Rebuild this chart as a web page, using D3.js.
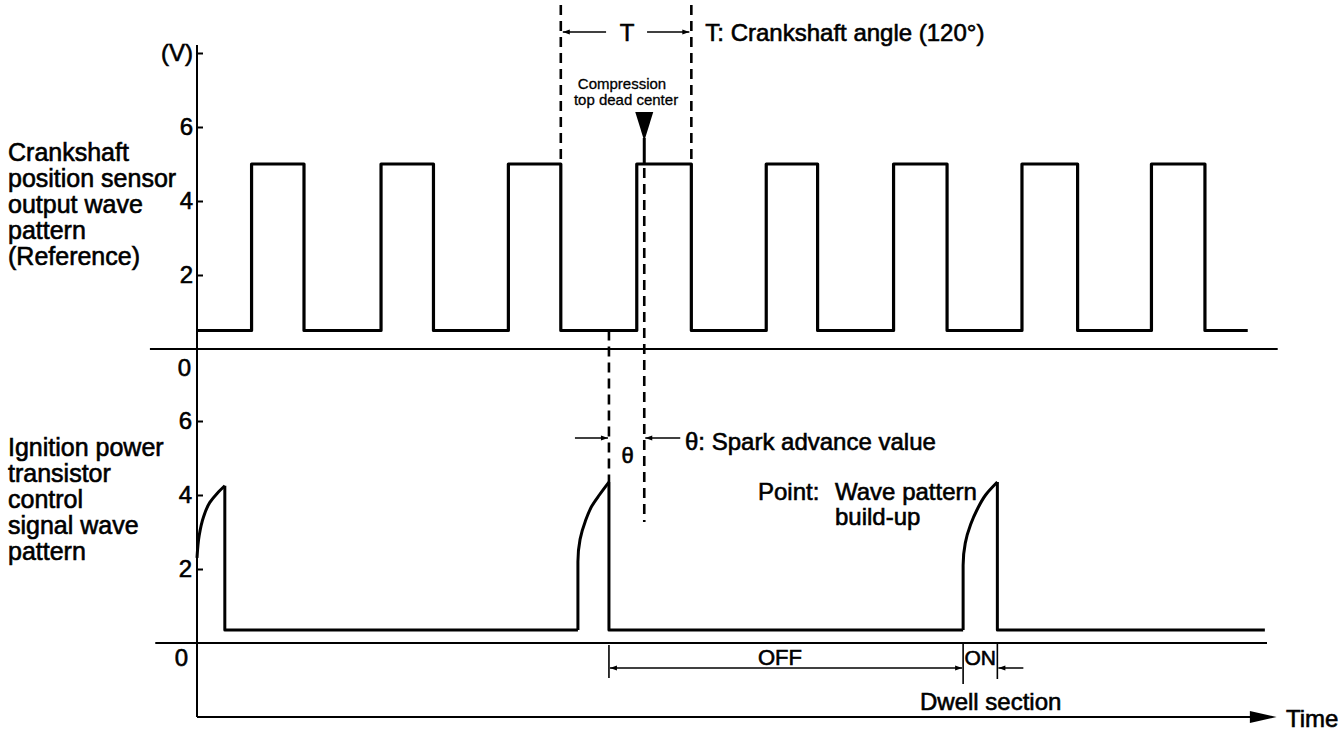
<!DOCTYPE html>
<html lang="en">
<head>
<meta charset="UTF-8">
<title>Crankshaft position sensor / ignition signal</title>
<script src="https://cdn.jsdelivr.net/npm/d3@7"></script>
<style>
  body { margin: 0; background: #fff; }
  svg { display: block; font-family: "Liberation Sans", Arial, Helvetica, sans-serif; }
  .lbl { font-size: 24px; fill: #000; stroke: #000; stroke-width: 0.6px; }
  .small { font-size: 15px; fill: #000; stroke: #000; stroke-width: 0.3px; }
</style>
</head>
<body>
<script>
// crank angle (deg) of the reference pulse edges
const refRise = [51, 172, 291, 411, 532, 651, 771, 892];
const refFall = [100, 221, 340, 462, 580, 701, 823, 942];
const refLow = 0.5, refHigh = 5.0, refEnd = 982;

// ignition power transistor signal, build-up curves as [deg, volts]
const ignBuild = [
  [[0, 2.3], [2, 2.9], [6, 3.4], [12, 3.8], [19, 4.05], [26, 4.25]],
  [[356, 0.35], [356, 2.2], [358, 2.8], [363, 3.3], [369, 3.7], [376, 4.0], [385, 4.35]],
  [[716, 0.35], [716, 2.1], [718, 2.7], [723, 3.2], [729, 3.6], [737, 4.0], [748, 4.35]]
];
const ignLow = 0.35, ignEnd = 998;

const refTicks = [2, 4, 6, 8];   // 8 shows as "(V)"
const ignTicks = [2, 4, 6];

const tEdges = [340, 462];   // T = 120 deg crank
const tdcAngle = 418;        // compression top dead center
const sparkAngle = 385;      // ignition point
const dwell = [716, 748];    // ON section

const refLabel = ["Crankshaft", "position sensor", "output wave", "pattern", "(Reference)"];
const ignLabel = ["Ignition power", "transistor", "control", "signal wave", "pattern"];

const W = 1344, H = 734;
const svg = d3.select("body").append("svg").attr("width", W).attr("height", H);

const x = d3.scaleLinear().domain([0, 1000]).range([197, 1267]);
const yTop = d3.scaleLinear().domain([0, 8]).range([349, 53]);
const yBot = d3.scaleLinear().domain([0, 6]).range([643, 421]);

const line = d3.line();

// arrow marker
const defs = svg.append("defs");
defs.append("marker").attr("id", "ah")
  .attr("viewBox", "0 0 10 10").attr("refX", 10).attr("refY", 5)
  .attr("markerWidth", 10).attr("markerHeight", 7).attr("markerUnits", "userSpaceOnUse")
  .attr("orient", "auto-start-reverse")
  .append("path").attr("d", "M0,1.5 L10,5 L0,8.5 Z").attr("fill", "#000");

// ---- frame: axis, baselines, time arrow
svg.append("line").attr("x1", x(0)).attr("x2", x(0)).attr("y1", 45).attr("y2", 717)
  .attr("stroke", "#000").attr("stroke-width", 2);
svg.append("line").attr("x1", x(-44)).attr("x2", x(1010)).attr("y1", yTop(0)).attr("y2", yTop(0))
  .attr("stroke", "#000").attr("stroke-width", 2);
svg.append("line").attr("x1", x(-39)).attr("x2", x(1000)).attr("y1", yBot(0)).attr("y2", yBot(0))
  .attr("stroke", "#000").attr("stroke-width", 2);
svg.append("line").attr("x1", x(0)).attr("x2", x(985)).attr("y1", 717).attr("y2", 717)
  .attr("stroke", "#000").attr("stroke-width", 2);
svg.append("path")
  .attr("d", `M${x(984)},711 L${x(1009)},717 L${x(984)},723 Z`).attr("fill", "#000");
svg.append("text").attr("class", "lbl").attr("x", 1286).attr("y", 727).text("Time");

// ---- y axes
function styleAxis(g) {
  g.select(".domain").remove();
  g.selectAll(".tick line").attr("stroke-width", 2);
  g.selectAll(".tick text").attr("class", "lbl");
}
svg.append("g").attr("transform", `translate(${x(0)},0)`)
  .call(d3.axisLeft(yTop).tickValues(refTicks).tickSize(-6).tickPadding(4)
    .tickFormat(d => d === 8 ? "(V)" : d3.format("d")(d)))
  .call(styleAxis);
svg.append("g").attr("transform", `translate(${x(0)},0)`)
  .call(d3.axisLeft(yBot).tickValues(ignTicks).tickSize(-6).tickPadding(5)
    .tickFormat(d3.format("d")))
  .call(styleAxis);
svg.append("text").attr("class", "lbl").attr("text-anchor", "end")
  .attr("x", x(0) - 6).attr("y", yTop(-0.5)).attr("dy", "0.35em").text("0");
svg.append("text").attr("class", "lbl").attr("text-anchor", "end")
  .attr("x", x(0) - 9).attr("y", yBot(-0.4)).attr("dy", "0.35em").text("0");

// ---- row labels (one text block each)
function block(lines, x0, y0, step, size) {
  const t = svg.append("text").attr("class", "lbl").style("font-size", size + "px")
    .attr("x", x0).attr("y", y0);
  t.selectAll("tspan").data(lines).join("tspan")
    .attr("x", x0).attr("dy", (d, i) => i ? step : 0).text(d => d);
  return t;
}
block(refLabel, 8, 161, 26, 25);
block(ignLabel, 8, 456, 26, 25);

// ---- reference wave
const refPts = [[0, refLow]];
refRise.forEach((r, i) => {
  refPts.push([r, refLow], [r, refHigh], [refFall[i], refHigh], [refFall[i], refLow]);
});
refPts.push([refEnd, refLow]);
svg.append("path")
  .attr("d", line(refPts.map(d => [x(d[0]), yTop(d[1])])))
  .attr("fill", "none").attr("stroke", "#000").attr("stroke-width", 3.2)
  .attr("stroke-linejoin", "round");

// ---- ignition wave: build-up curves + drops/flats
const curveGen = d3.line().curve(d3.curveMonotoneY);
const ignG = svg.append("g").attr("fill", "none").attr("stroke", "#000")
  .attr("stroke-width", 3).attr("stroke-linejoin", "round");
ignBuild.forEach((c, i) => {
  ignG.append("path").attr("d", curveGen(c.map(d => [x(d[0]), yBot(d[1])])));
  const peak = c[c.length - 1];
  const next = i + 1 < ignBuild.length ? ignBuild[i + 1][0][0] : ignEnd;
  const flat = [[peak[0], peak[1]], [peak[0], ignLow], [next, ignLow]];
  ignG.append("path").attr("d", line(flat.map(d => [x(d[0]), yBot(d[1])])));
});

// ---- T (120 deg) annotation
const dash = "10,6";
tEdges.forEach(a => {
  svg.append("line").attr("x1", x(a)).attr("x2", x(a)).attr("y1", 5).attr("y2", yTop(refHigh))
    .attr("stroke", "#000").attr("stroke-width", 2.6).attr("stroke-dasharray", dash);
});
const tMid = (x(tEdges[0]) + x(tEdges[1])) / 2;
svg.append("line").attr("x1", tMid - 20).attr("x2", x(tEdges[0]) + 2).attr("y1", 32).attr("y2", 32)
  .attr("stroke", "#000").attr("stroke-width", 1.5).attr("marker-end", "url(#ah)");
svg.append("line").attr("x1", tMid + 21).attr("x2", x(tEdges[1]) - 2).attr("y1", 32).attr("y2", 32)
  .attr("stroke", "#000").attr("stroke-width", 1.5).attr("marker-end", "url(#ah)");
svg.append("text").attr("class", "lbl").attr("text-anchor", "middle")
  .attr("x", tMid + 1).attr("y", 41).text("T");
svg.append("text").attr("class", "lbl").attr("x", x(tEdges[1]) + 14).attr("y", 41)
  .text("T: Crankshaft angle (120°)");

// ---- compression TDC
const tdcText = svg.append("text").attr("class", "small").attr("text-anchor", "middle")
  .attr("x", 624).attr("y", 89);
tdcText.selectAll("tspan").data(["Compression", "top dead center"]).join("tspan")
  .attr("x", (d, i) => i ? 626 : 622).attr("dy", (d, i) => i ? 16 : 0).text(d => d);
const tdcX = x(tdcAngle);
svg.append("path").attr("d", `M${tdcX - 9},112 L${tdcX + 9},112 L${tdcX},141 Z`).attr("fill", "#000");
svg.append("line").attr("x1", tdcX).attr("x2", tdcX).attr("y1", 138).attr("y2", yTop(refHigh))
  .attr("stroke", "#000").attr("stroke-width", 3);
svg.append("line").attr("x1", tdcX).attr("x2", tdcX).attr("y1", yTop(refHigh) + 4).attr("y2", 522)
  .attr("stroke", "#000").attr("stroke-width", 2.6).attr("stroke-dasharray", dash);

// ---- spark advance
const spX = x(sparkAngle);
svg.append("line").attr("x1", spX).attr("x2", spX).attr("y1", yTop(refLow)).attr("y2", yBot(4.35))
  .attr("stroke", "#000").attr("stroke-width", 2.6).attr("stroke-dasharray", dash);
svg.append("line").attr("x1", spX - 34).attr("x2", spX - 1).attr("y1", 438).attr("y2", 438)
  .attr("stroke", "#000").attr("stroke-width", 1.5).attr("marker-end", "url(#ah)");
svg.append("line").attr("x1", tdcX + 36).attr("x2", tdcX + 1).attr("y1", 438).attr("y2", 438)
  .attr("stroke", "#000").attr("stroke-width", 1.5).attr("marker-end", "url(#ah)");
svg.append("text").attr("class", "lbl").style("font-size", "22px").attr("text-anchor", "middle")
  .attr("x", (spX + tdcX) / 2 + 1).attr("y", 463).text("θ");
svg.append("text").attr("class", "lbl").attr("x", 685).attr("y", 450).text("θ: Spark advance value");

svg.append("text").attr("class", "lbl").attr("x", 758).attr("y", 500).text("Point:");
block(["Wave pattern", "build-up"], 835, 500, 25, 24);

// ---- dwell section
const onX0 = x(dwell[0]), onX1 = x(dwell[1]);
[[spX, 645, 678], [onX0, yBot(0), 684], [onX1, yBot(0), 679]].forEach(d => {
  svg.append("line").attr("x1", d[0]).attr("x2", d[0]).attr("y1", d[1]).attr("y2", d[2])
    .attr("stroke", "#000").attr("stroke-width", 1.6);
});
svg.append("line").attr("x1", spX + 1).attr("x2", onX0 - 1).attr("y1", 668).attr("y2", 668)
  .attr("stroke", "#000").attr("stroke-width", 1.5)
  .attr("marker-start", "url(#ah)").attr("marker-end", "url(#ah)");
svg.append("line").attr("x1", onX1 + 26).attr("x2", onX1 + 1).attr("y1", 668).attr("y2", 668)
  .attr("stroke", "#000").attr("stroke-width", 1.5).attr("marker-end", "url(#ah)");
svg.append("text").attr("class", "lbl").style("font-size", "22px").attr("text-anchor", "middle")
  .attr("x", 780).attr("y", 665).text("OFF");
svg.append("text").attr("class", "lbl").style("font-size", "21px").attr("text-anchor", "middle")
  .attr("x", (onX0 + onX1) / 2).attr("y", 665).text("ON");
svg.append("text").attr("class", "lbl").attr("x", 920).attr("y", 710).text("Dwell section");
</script>
</body>
</html>
